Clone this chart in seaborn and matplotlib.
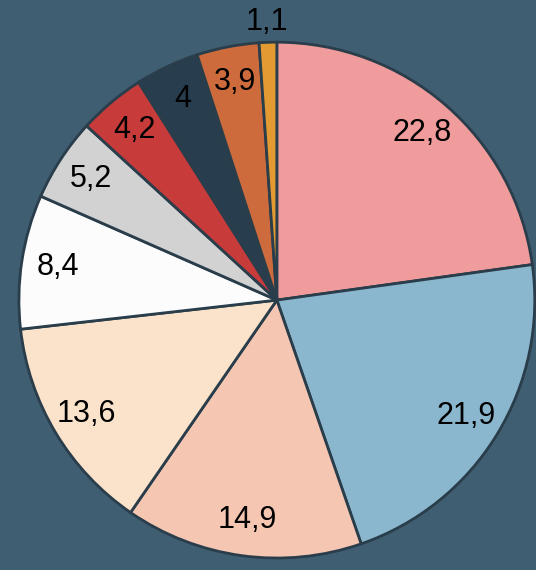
import matplotlib.pyplot as plt
import seaborn as sns
import numpy as np

sns.set_theme(style="white")
plt.rcParams['font.family'] = ['Liberation Sans', 'DejaVu Sans']

BG = '#3f5e72'

# slice values, clockwise from 12 o'clock
values = [22.8, 21.9, 14.9, 13.6, 8.4, 5.2, 4.2, 4, 3.9, 1.1]
labels = ['22,8', '21,9', '14,9', '13,6', '8,4', '5,2', '4,2', '4', '3,9', '1,1']
colors = ['#f09c9c', '#8ab6ce', '#f5c6b2', '#fbe3cb', '#fcfcfc',
          '#d2d2d2', '#c73b3b', '#283e4e', '#cd6b3d', '#e39a32']

fig = plt.figure(figsize=(5.36, 5.70), dpi=100, facecolor=BG)
ax = fig.add_axes([0.035, 0.021, 0.963, 0.905])
ax.set_facecolor(BG)

label_iter = iter(labels)
wedges, texts, autotexts = ax.pie(
    values, colors=colors, startangle=90, counterclock=False,
    autopct=lambda p: next(label_iter), pctdistance=0.86,
    wedgeprops=dict(edgecolor='#2a3d4b', linewidth=2.0),
    textprops=dict(fontsize=22, color='black'))

# the tiny last slice has its label just outside the pie
last = wedges[-1]
ang = np.deg2rad((last.theta1 + last.theta2) / 2)
autotexts[-1].set_position((1.08 * np.cos(ang), 1.08 * np.sin(ang)))

ax.set_xlim(-1.0, 1.0)
ax.set_ylim(-1.0, 1.0)
ax.set_aspect('equal')
ax.axis('off')

fig.savefig('out.png', dpi=100, facecolor=BG)
